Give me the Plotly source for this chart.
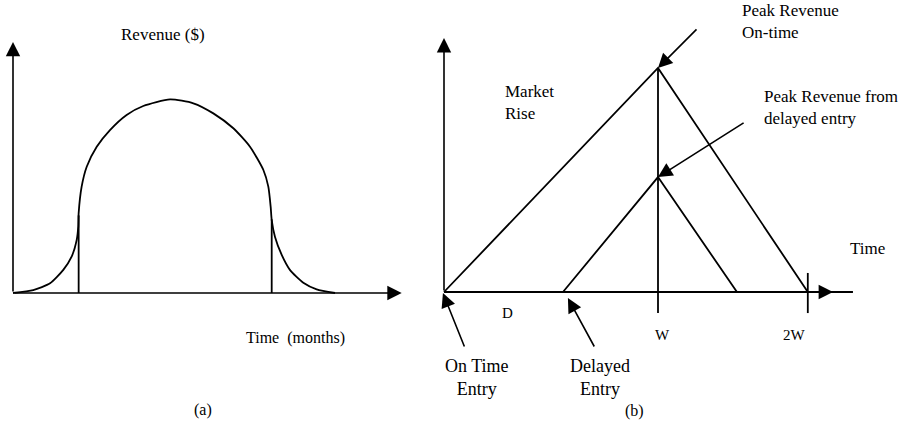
import plotly.graph_objects as go

W_PX, H_PX = 903, 425
FONT = "Liberation Serif"

# ---------------- Panel (a) data: revenue curve over time (months, revenue %) ----------------
a_time = [0, 1.56, 2.85, 3.87, 4.51, 4.9, 5.02, 5.05, 5.28, 5.67, 6.44, 7.46, 8.74, 10.02,
          12.08, 13.87, 15.41, 16.95, 18.23, 19.26, 19.64, 19.82, 19.9, 20.15, 20.67, 21.3,
          22.33, 23.36, 24.77]
a_revenue = [0, 1.5, 5.0, 11.9, 18.7, 27.3, 34.2, 41.1, 54.8, 65.1, 75.4, 84.0, 91.8, 96.4,
             99.8, 97.8, 92.6, 84.9, 75.4, 63.4, 54.8, 44.5, 37.6, 29.0, 19.6, 11.9,
             5.3, 1.9, 0]
a_split_time = [5.05, 19.9]
a_split_revenue = [40.0, 38.0]
a_axis_x_end = 29.9
a_axis_y_end = 129.4

# ---------------- Panel (b) data: market window (time in W, revenue rel. to on-time peak) -----
b_ontime_t = [0, 1.0, 1.70]
b_ontime_r = [0, 1.0, 0]
b_delayed_t = [0.556, 1.0, 1.369]
b_delayed_r = [0, 0.513, 0]
b_W = 1.0
b_2W = 1.70
b_axis_x_line_end = 1.911
b_axis_x_arrow = 1.818
b_axis_y_end = 1.134
b_below = -0.094
b_tick_top = 0.085

# ---------------- pixel layout anchors (origin pixel and pixels per unit) ----------------
A_ORIG = (13, 293, 13.0, 1.94)
B_ORIG = (444, 292, 214.0, 224.0)


def xrange_for(px0, scale):
    return [-px0 / scale, (W_PX - px0) / scale]


def yrange_for(py0, scale):
    return [-(H_PX - py0) / scale, py0 / scale]


LINE = dict(color="black", width=1.8)

fig = go.Figure()

# Panel (a)
fig.add_trace(go.Scatter(x=a_time, y=a_revenue, mode="lines", line=dict(LINE, shape="spline", smoothing=0.6),
                         xaxis="x", yaxis="y", hoverinfo="skip"))
vx, vy = [], []
for t, r in zip(a_split_time, a_split_revenue):
    vx += [t, t, None]
    vy += [0, r, None]
fig.add_trace(go.Scatter(x=vx, y=vy, mode="lines", line=LINE, xaxis="x", yaxis="y", hoverinfo="skip"))

# Panel (b)
fig.add_trace(go.Scatter(x=b_ontime_t, y=b_ontime_r, mode="lines", line=LINE,
                         xaxis="x2", yaxis="y2", hoverinfo="skip"))
fig.add_trace(go.Scatter(x=b_delayed_t, y=b_delayed_r, mode="lines", line=LINE,
                         xaxis="x2", yaxis="y2", hoverinfo="skip"))
fig.add_trace(go.Scatter(x=[0, b_axis_x_line_end, None, b_W, b_W, None, b_2W, b_2W],
                         y=[0, 0, None, b_below, max(b_ontime_r), None, b_below, b_tick_top],
                         mode="lines", line=LINE, xaxis="x2", yaxis="y2", hoverinfo="skip"))

ann = []


def arrow(x, y, ax, ay, xr, yr, size=1.8):
    ann.append(dict(x=x, y=y, ax=ax, ay=ay, xref=xr, yref=yr, axref=xr, ayref=yr,
                    text="", showarrow=True, arrowhead=2, arrowsize=size, arrowwidth=1.6,
                    arrowcolor="black", standoff=0, startstandoff=0))


def label(text, x, y, xr, yr, xanchor="center", size=17, align="center"):
    ann.append(dict(x=x, y=y, xref=xr, yref=yr, text=text, showarrow=False,
                    xanchor=xanchor, yanchor="middle", align=align,
                    font=dict(family=FONT, size=size, color="black")))


# axes of (a)
arrow(0, a_axis_y_end, 0, 0, "x", "y")
arrow(a_axis_x_end, 0, 0, 0, "x", "y")
# axes of (b)
arrow(0, b_axis_y_end, 0, 0, "x2", "y2")
arrow(b_axis_x_arrow, 0, b_axis_x_arrow - 0.1, 0, "x2", "y2")

# pointer arrows (b)
arrow(1.0, 1.0, 1.187, 1.179, "x2", "y2")
arrow(1.0, 0.513, 1.407, 0.759, "x2", "y2")
arrow(-0.005, -0.0045, 0.098, -0.25, "x2", "y2")
arrow(0.579, -0.027, 0.706, -0.25, "x2", "y2")

# labels (a)
label("Revenue ($)", 11.54, 133, "x", "y")
label("Time  (months)", 21.7, -23.2, "x", "y", size=16)
label("(a)", 14.6, -60.3, "x", "y", size=16)

# labels (b)
label("Peak Revenue<br>On-time", 1.383, 1.2076, "x2", "y2", xanchor="left", align="left")
label("Market<br>Rise", 0.2757, 0.8438, "x2", "y2", xanchor="left", align="left")
label("Peak Revenue from<br>delayed entry", 1.486, 0.8237, "x2", "y2", xanchor="left", align="left")
label("Time", 1.888, 0.196, "x2", "y2", xanchor="left")
label("D", 0.299, -0.094, "x2", "y2", size=15)
label("W", 1.019, -0.192, "x2", "y2", size=15)
label("2W", 1.640, -0.192, "x2", "y2", size=15)
label("On Time<br>Entry", 0.154, -0.382, "x2", "y2", size=18)
label("Delayed<br>Entry", 0.729, -0.382, "x2", "y2", size=18)
label("(b)", 0.888, -0.531, "x2", "y2", size=16)

hidden = dict(visible=False, fixedrange=True, domain=[0, 1])
fig.update_layout(
    width=W_PX, height=H_PX,
    margin=dict(l=0, r=0, t=0, b=0),
    paper_bgcolor="white", plot_bgcolor="white",
    showlegend=False,
    xaxis=dict(hidden, range=xrange_for(A_ORIG[0], A_ORIG[2])),
    yaxis=dict(hidden, range=yrange_for(A_ORIG[1], A_ORIG[3])),
    xaxis2=dict(hidden, range=xrange_for(B_ORIG[0], B_ORIG[2]), overlaying="x", anchor="y2"),
    yaxis2=dict(hidden, range=yrange_for(B_ORIG[1], B_ORIG[3]), overlaying="y", anchor="x2"),
    annotations=ann,
)

fig.write_html("out.html", config={"displayModeBar": False},
               post_script="document.body.style.margin='0';document.body.style.overflow='hidden';")
